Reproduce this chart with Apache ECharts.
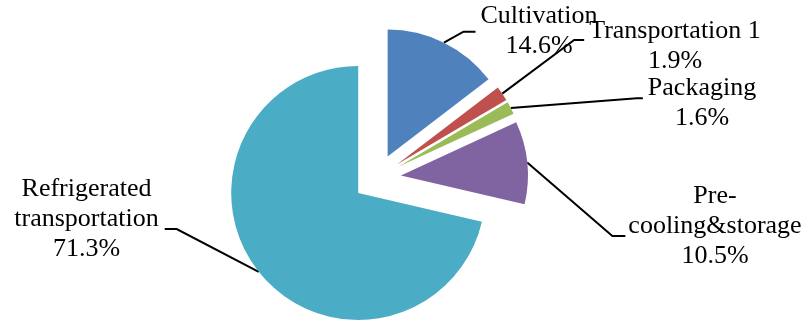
<!DOCTYPE html>
<html>
<head>
<meta charset="utf-8">
<script src="https://cdn.jsdelivr.net/npm/echarts@6/dist/echarts.min.js"></script>
<style>
  html, body { margin: 0; padding: 0; background: #fff; }
  #chart { width: 809px; height: 322px; }
</style>
</head>
<body>
<div id="chart"></div>
<script>
// Share of each stage in the supply chain (%)
const categories = ['Cultivation', 'Transportation 1', 'Packaging', 'Pre-cooling&storage', 'Refrigerated transportation'];
const labelNames = ['Cultivation', 'Transportation 1', 'Packaging', 'Pre-\ncooling&storage', 'Refrigerated\ntransportation'];
const shares = [14.6, 1.9, 1.6, 10.5, 71.3];
const colors = ['#4F81BD', '#C0504D', '#9BBB59', '#8064A2', '#4BACC6'];

// Callout placement: text centre (tx, ty), y where the leader ends (cy),
// side of the text the leader comes in from, gap before the text, length of the flat tail
const labelSpots = [
  { tx: 539,  ty: 31.2,  cy: 31.7, side: 'left',  gap: 5, tail: 12 },
  { tx: 675,  ty: 46.5,  cy: 40,   side: 'left',  gap: 5, tail: 10 },
  { tx: 702,  ty: 103.5, cy: 98.3, side: 'left',  gap: 5, tail: 6 },
  { tx: 715,  ty: 226.2, cy: 236,  side: 'left',  gap: 3, tail: 13 },
  { tx: 86.5, ty: 219.2, cy: 229,  side: 'right', gap: 6, tail: 12 }
];

const PIE_CENTER = [377, 178];
const PIE_RADIUS = 127;
const EXPLODE = 24;
const FONT = '"Liberation Serif", "Times New Roman", serif';

// Each slice is pulled out from the centre along its own mid angle
const total = shares.reduce((a, b) => a + b, 0);
let acc = 0;
const sliceShift = shares.map((v) => {
  const mid = (acc + v / 2) / total * Math.PI * 2;
  acc += v;
  return [Math.sin(mid) * EXPLODE, -Math.cos(mid) * EXPLODE];
});

const chart = echarts.init(document.getElementById('chart'), null, { renderer: 'canvas' });

const series = categories.map((_, k) => ({
  type: 'pie',
  silent: true,
  center: [PIE_CENTER[0] + sliceShift[k][0], PIE_CENTER[1] + sliceShift[k][1]],
  radius: PIE_RADIUS,
  startAngle: 90,
  clockwise: true,
  avoidLabelOverlap: false,
  emphasis: { disabled: true },
  itemStyle: { borderWidth: 0 },
  data: categories.map((name, i) => ({
    name: name,
    value: shares[i],
    itemStyle: { color: i === k ? colors[i] : 'rgba(0,0,0,0)' },
    label: { show: i === k },
    labelLine: { show: i === k }
  })),
  label: {
    color: '#000',
    fontFamily: FONT,
    fontSize: 26,
    lineHeight: 30,
    align: 'center',
    formatter: (p) => labelNames[p.dataIndex] + '\n' + p.value.toFixed(1) + '%'
  },
  labelLine: {
    smooth: false,
    length: 15,
    length2: 10,
    lineStyle: { color: '#000', width: 2 }
  },
  labelLayout: (p) => {
    if (p.dataIndex !== k || !p.labelLinePoints) return {};
    const s = labelSpots[k];
    const half = p.labelRect.width / 2;
    const endX = s.side === 'left' ? s.tx - half - s.gap : s.tx + half + s.gap;
    const turnX = s.side === 'left' ? endX - s.tail : endX + s.tail;
    const anchor = p.labelLinePoints[0];
    return {
      x: s.tx,
      y: s.ty,
      align: 'center',
      verticalAlign: 'middle',
      labelLinePoints: [[anchor[0], anchor[1]], [turnX, s.cy], [endX, s.cy]]
    };
  }
}));

chart.setOption({
  animation: false,
  backgroundColor: '#ffffff',
  series: series
});
</script>
</body>
</html>
